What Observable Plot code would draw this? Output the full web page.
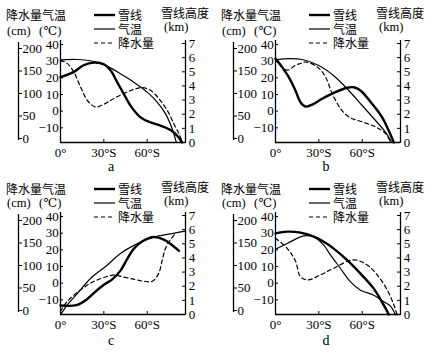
<!DOCTYPE html>
<html><head><meta charset="utf-8">
<script src="https://cdn.jsdelivr.net/npm/d3@7"></script>
<script src="https://cdn.jsdelivr.net/npm/@observablehq/plot@0.6"></script>
<style>
body{margin:0;background:#fff;}
#root{position:relative;width:440px;height:357px;overflow:hidden;color:#000;}
.panel{position:absolute;width:225px;height:185px;}
.panel svg.plot{position:absolute;left:0;top:0;}
.t{position:absolute;white-space:nowrap;line-height:1;transform:translateY(-50%);}
.zh{font-family:"Noto Sans CJK SC",sans-serif;font-size:12px;}
.en{font-family:"Liberation Serif","DejaVu Serif","Times New Roman",serif;font-size:12.5px;}
.lab{font-family:"Liberation Serif","DejaVu Serif","Times New Roman",serif;font-size:14px;transform:translate(-50%,-50%);}
.leg{position:absolute;white-space:pre;line-height:14px;font-family:"Noto Sans CJK SC",sans-serif;font-size:12px;}
</style></head><body><div id="root"></div>
<script>
// ---- shared tick values / labels ----
const xTicks = [0, 30, 60];
const xTickLabels = ["0°", "30°S", "60°S"];
const tempTicks = [-10, 0, 10, 20, 30, 40];
const precipTicks = [0, 50, 100, 150, 200];
const snowTicks = [0, 1, 2, 3, 4, 5, 6, 7];
const legendLabels = ["雪线", "气温", "降水量"];
const panelNames = ["a", "b", "c", "d"];

// ---- panel a ----
const aSnowLat = [0, 9, 16, 23, 30, 34.6, 39.2, 43.8, 48.4, 55.4, 62.3, 69.2, 76.1, 80.8, 84.2];
const aSnowKm  = [4.62, 4.98, 5.46, 5.65, 5.53, 5.10, 4.27, 3.44, 2.61, 1.78, 1.42, 1.19, 0.88, 0.48, 0];
const aTempLat = [0, 11.5, 23, 32.3, 41.5, 50.7, 60, 66.9, 72.7, 77.3, 80.1];
const aTempC   = [30.8, 31, 29.8, 27, 22.4, 17.4, 11.4, 5.4, -1.6, -10.6, -18.6];
const aPrecLat = [0, 4.6, 9.2, 13.8, 18.5, 24.2, 30, 36.9, 43.8, 50.7, 56.5, 62.3, 68, 73.8, 78.4, 81.9, 84.2];
const aPrecCm  = [174, 167, 148, 115, 85, 70, 76, 89, 100, 109, 113, 107, 89, 63, 33, 11, -7.5];

// ---- panel b ----
const bSnowLat = [0, 4.6, 9.2, 13.8, 17.3, 20.8, 25.4, 32.3, 41.5, 49.6, 54.2, 58.8, 66.9, 73.8, 78.4, 81.9];
const bSnowKm  = [5.93, 5.33, 4.62, 3.68, 2.85, 2.54, 2.68, 3.09, 3.56, 3.87, 3.91, 3.68, 2.73, 1.78, 0.83, 0];
const bTempLat = [0, 9.2, 18.5, 30, 41.5, 50.7, 60, 69.2, 76.1, 80.3];
const bTempC   = [30.8, 31.5, 31, 27.4, 20.4, 12.4, 3.4, -5.6, -12.6, -18.6];
const bPrecLat = [0, 8.1, 13.8, 17.3, 20.8, 28.9, 34.6, 39.2, 45, 50.7, 60, 69.2, 76.1, 79.6];
const bPrecCm  = [175.6, 151.8, 162.9, 166.7, 170, 159, 137, 100, 66.7, 48, 37, 25.8, 11, -7.6];

// ---- panel c ----
const cSnowLat = [0, 11, 18, 24, 30, 36, 41.5, 46, 50.7, 57, 64.6, 71.5, 77.3, 82];
const cSnowKm  = [0.64, 0.66, 1.05, 1.6, 2.1, 2.5, 3.1, 3.9, 4.65, 5.2, 5.48, 5.3, 4.9, 4.5];
const cTempLat = [0, 4.6, 11.6, 20.8, 32.3, 41.5, 55.4, 64.6, 76.1, 86.5];
const cTempC   = [-19, -13.2, -6.2, 2.8, 10.8, 17.8, 24.6, 27.6, 29.6, 31.2];
const cPrecLat = [0, 4.6, 13.8, 23, 32.3, 38.1, 41.5, 50.5, 57.6, 63.5, 68, 70.4, 72.7, 76.1, 79.6];
const cPrecCm  = [-2, 20, 45.8, 64.4, 75.6, 79, 76, 69.6, 65, 65, 82.9, 111.8, 138.4, 157.8, 171];

// ---- panel d ----
const dSnowLat = [0, 8.1, 17.3, 26.5, 33.4, 40.3, 49.6, 58.8, 68, 75, 78.4];
const dSnowKm  = [5.74, 5.86, 5.79, 5.5, 5.14, 4.66, 3.84, 2.89, 1.83, 0.64, 0];
const dTempLat = [0, 8.1, 19.6, 26.5, 33.4, 38.1, 45, 51.9, 58.8, 68, 75, 79.6, 83];
const dTempC   = [20.4, 23.8, 28.4, 27.8, 22.8, 16.8, 8.8, 0.8, -4.2, -7.2, -11.2, -13.8, -19];
const dPrecLat = [0, 8.1, 13.8, 17.3, 22.3, 31.1, 40.3, 54.2, 63.4, 70.4, 77.3, 81.9, 84.2];
const dPrecCm  = [160.7, 138, 110, 75, 68, 79, 94, 112.7, 101, 79, 45.8, 12.4, -9.6];

// ---- layout ----
const W = 215, H = 178;
const xDomain = [0, 86.5];
const tempDomain = [-18.8, 40];
const snowDomain = [0, 7];
const precDomain = [0, 200];
const ink = "#000";
const serif = "'Liberation Serif', 'DejaVu Serif', 'Times New Roman', serif";

const zipXY = (xs, ys) => xs.map((x, i) => ({x, y: ys[i]}));
const baseStyle = {background: "none", fontFamily: serif, fontSize: "13px", color: ink, overflow: "visible"};

function buildPanel(name, ox, oy, dy, snow, temp, prec) {
  const root = document.getElementById("root");
  const div = document.createElement("div");
  div.className = "panel";
  div.style.left = ox + "px";
  div.style.top = oy + "px";
  root.appendChild(div);

  const common = {width: W, height: H, marginLeft: 60, marginRight: 30, style: baseStyle};

  // temperature layer (left inner axis + x axis)
  const pTemp = Plot.plot({
    ...common, marginTop: 44, marginBottom: H - 142,
    x: {domain: xDomain},
    y: {domain: tempDomain},
    marks: [
      Plot.ruleX([0], {stroke: ink, strokeWidth: 1.3, insetTop: -4}),
      Plot.ruleY([tempDomain[0]], {stroke: ink, strokeWidth: 1.3}),
      Plot.axisY(tempTicks, {anchor: "left", tickSize: -3, tickPadding: 4.7, label: null, stroke: ink, fill: ink}),
      Plot.axisX(xTicks, {anchor: "bottom", tickSize: -3, tickPadding: 8, label: null, stroke: ink, fill: ink,
        tickFormat: d => xTickLabels[xTicks.indexOf(d)]}),
      Plot.line(zipXY(temp[0], temp[1]), {x: "x", y: "y", curve: "catmull-rom", stroke: ink, strokeWidth: 1.2})
    ]
  });
  // snow line layer (right axis)
  const pSnow = Plot.plot({
    ...common, marginTop: 43, marginBottom: H - 142,
    x: {domain: xDomain, axis: null},
    y: {domain: snowDomain},
    marks: [
      Plot.ruleX([xDomain[1]], {stroke: ink, strokeWidth: 1.3, insetTop: -3}),
      Plot.axisY(snowTicks, {anchor: "right", tickSize: -4, tickPadding: 7.3, label: null, stroke: ink, fill: ink}),
      Plot.line(zipXY(snow[0], snow[1]), {x: "x", y: "y", curve: "catmull-rom", stroke: ink, strokeWidth: 2.4})
    ]
  });
  // precipitation layer (outer left axis)
  const pPrec = Plot.plot({
    ...common, marginTop: 48, marginBottom: H - 138,
    x: {domain: xDomain, axis: null},
    y: {domain: precDomain},
    marks: [
      Plot.ruleX([xDomain[1]], {dx: -167, stroke: ink, strokeWidth: 1.3, insetTop: -6, insetBottom: -2}),
      Plot.axisY(precipTicks, {anchor: "right", dx: -167, tickSize: 3, tickPadding: 1, label: null, stroke: ink, fill: ink}),
      Plot.line(zipXY(prec[0], prec[1]), {x: "x", y: "y", curve: "catmull-rom", stroke: ink, strokeWidth: 1.2, strokeDasharray: "4,3"})
    ]
  });
  for (const p of [pPrec, pTemp, pSnow]) { p.classList.add("plot"); div.appendChild(p); }

  const addText = (str, x, y, cls) => {
    const t = document.createElement("div");
    t.className = "t " + cls;
    t.textContent = str;
    t.style.left = x + "px";
    t.style.top = y + "px";
    div.appendChild(t);
    return t;
  };
  addText("降水量气温", 6, 14.5 + dy, "zh");
  addText("(cm)", 7, 30.5, "en");
  addText("(℃)", 39, 30.5, "en");
  addText("雪线高度", 161, 12.5 + dy, "zh");
  addText("(km)", 164, 27 + dy, "en");
  // legend: one text block, 14px line spacing, plus swatches
  const rowStep = 14, firstRow = 15;
  const leg = document.createElement("div");
  leg.className = "leg";
  leg.textContent = legendLabels.join("\n");
  leg.style.left = "118px";
  leg.style.top = (firstRow - rowStep / 2 + dy) + "px";
  div.appendChild(leg);
  const widths = [2.4, 1.2, 1.2];
  const dashes = [null, null, "4,3"];
  legendLabels.forEach((lab, i) => {
    const ns = "http://www.w3.org/2000/svg";
    const s = document.createElementNS(ns, "svg");
    s.setAttribute("width", 22); s.setAttribute("height", 6);
    s.style.position = "absolute"; s.style.left = "94px";
    s.style.top = (firstRow + i * rowStep + dy - 3) + "px";
    const l = document.createElementNS(ns, "line");
    l.setAttribute("x1", 0); l.setAttribute("x2", 21); l.setAttribute("y1", 3); l.setAttribute("y2", 3);
    l.setAttribute("stroke", ink); l.setAttribute("stroke-width", widths[i]);
    if (dashes[i]) l.setAttribute("stroke-dasharray", dashes[i]);
    s.appendChild(l);
    div.appendChild(s);
  });
  addText(name, 111, 167 + dy, "lab");
}

buildPanel(panelNames[0], 0, 0, 0, [aSnowLat, aSnowKm], [aTempLat, aTempC], [aPrecLat, aPrecCm]);
buildPanel(panelNames[1], 215, 0, 0, [bSnowLat, bSnowKm], [bTempLat, bTempC], [bPrecLat, bPrecCm]);
buildPanel(panelNames[2], 0, 172, 2, [cSnowLat, cSnowKm], [cTempLat, cTempC], [cPrecLat, cPrecCm]);
buildPanel(panelNames[3], 215, 172, 2, [dSnowLat, dSnowKm], [dTempLat, dTempC], [dPrecLat, dPrecCm]);
</script>
</body></html>
